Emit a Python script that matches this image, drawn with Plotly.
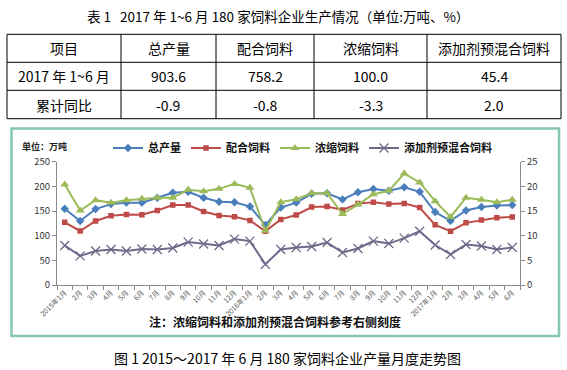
import plotly.graph_objects as go

# ---------------- data ----------------
table_title = "表 1   2017 年 1~6 月 180 家饲料企业生产情况（单位:万吨、%）"
table_header = ["项目", "总产量", "配合饲料", "浓缩饲料", "添加剂预混合饲料"]
table_row_output = ["2017 年 1~6 月", "903.6", "758.2", "100.0", "45.4"]
table_row_yoy = ["累计同比", "-0.9", "-0.8", "-3.3", "2.0"]

months = ["2015年1月", "2月", "3月", "4月", "5月", "6月", "7月", "8月", "9月", "10月", "11月", "12月",
          "2016年1月", "2月", "3月", "4月", "5月", "6月", "7月", "8月", "9月", "10月", "11月", "12月",
          "2017年1月", "2月", "3月", "4月", "5月", "6月"]

total_output = [154.7, 129.7, 154.0, 164.0, 167.0, 167.0, 177.0, 187.0, 189.0, 177.0,
                169.0, 167.6, 159.0, 121.6, 157.0, 167.0, 185.0, 186.0, 173.6, 188.0,
                194.6, 191.0, 198.0, 189.0, 148.0, 130.0, 151.0, 158.0, 161.0, 162.0]
compound_feed = [127.0, 109.5, 129.7, 140.5, 143.0, 142.6, 151.0, 162.0, 162.0, 149.0,
                 141.0, 138.5, 131.0, 109.0, 133.0, 142.0, 158.0, 159.0, 152.0, 165.0,
                 167.6, 164.0, 165.5, 157.0, 122.0, 109.0, 126.0, 132.0, 136.5, 138.0]
concentrate_feed = [20.4, 15.1, 17.2, 16.7, 17.2, 17.5, 17.7, 17.7, 19.3, 19.0,
                    19.5, 20.5, 19.7, 11.0, 16.8, 17.4, 18.6, 18.6, 14.4, 16.3,
                    18.4, 19.1, 22.6, 20.8, 17.0, 13.8, 17.7, 17.3, 16.8, 17.3]
premix_feed = [8.0, 5.9, 6.9, 7.2, 6.9, 7.3, 7.2, 7.5, 8.7, 8.3,
               8.0, 9.3, 8.9, 4.2, 7.2, 7.6, 7.8, 8.6, 6.6, 7.4,
               8.9, 8.4, 9.5, 10.9, 8.1, 6.2, 8.2, 7.9, 7.2, 7.6]

series_names = ["总产量", "配合饲料", "浓缩饲料", "添加剂预混合饲料"]
unit_label = "单位：万吨"
note_text = "注：浓缩饲料和添加剂预混合饲料参考右侧刻度"
caption = "图 1 2015～2017 年 6 月 180 家饲料企业产量月度走势图"

# ---------------- layout helpers ----------------
W, H = 567, 370
FONT = "Noto Sans CJK SC"


def px(x):
    return x / W


def py(y):
    return 1 - y / H


x_idx = list(range(len(months)))

fig = go.Figure()

fig.add_trace(go.Scatter(
    x=x_idx, y=total_output, name=series_names[0], mode="lines+markers",
    line=dict(color="#4a7ebb", width=2),
    marker=dict(symbol="diamond", size=6.5, color="#4a7ebb"),
    yaxis="y"))
fig.add_trace(go.Scatter(
    x=x_idx, y=compound_feed, name=series_names[1], mode="lines+markers",
    line=dict(color="#be4b48", width=2),
    marker=dict(symbol="square", size=5.5, color="#be4b48"),
    yaxis="y"))
fig.add_trace(go.Scatter(
    x=x_idx, y=concentrate_feed, name=series_names[2], mode="lines+markers",
    line=dict(color="#9bbb59", width=2),
    marker=dict(symbol="triangle-up", size=8, color="#9bbb59"),
    yaxis="y2"))
fig.add_trace(go.Scatter(
    x=x_idx, y=premix_feed, name=series_names[3], mode="lines+markers",
    line=dict(color="#6e6a8a", width=2),
    marker=dict(symbol="x-thin", size=9, color="#6e6a8a",
                line=dict(color="#6e6a8a", width=1.3)),
    yaxis="y2"))

ax_color = "#8a8a8a"
tick_font = dict(family=FONT, size=9.5, color="#333333")

fig.update_layout(
    width=W, height=H, autosize=False,
    margin=dict(l=0, r=0, t=0, b=0, autoexpand=False),
    paper_bgcolor="white", plot_bgcolor="white",
    font=dict(family=FONT, color="#000000"),
    xaxis=dict(
        domain=[px(57), px(520)], anchor="y", automargin=False,
        range=[-0.5, len(months) - 0.5],
        tickmode="array", tickvals=x_idx, ticktext=months,
        tickangle=-45, tickfont=dict(family=FONT, size=7, color="#555555"),
        ticks="", showgrid=False, zeroline=False,
        showline=True, linecolor=ax_color, linewidth=1,
        minor=dict(tick0=0.5, dtick=1, ticks="outside", ticklen=4,
                   tickcolor=ax_color, showgrid=False),
    ),
    yaxis=dict(
        domain=[py(285), py(161.7)], anchor="x", automargin=False,
        range=[0, 250], dtick=50, tickfont=tick_font,
        ticks="outside", ticklen=4, tickcolor=ax_color,
        showgrid=False, zeroline=False,
        showline=True, linecolor=ax_color, linewidth=1,
    ),
    yaxis2=dict(
        overlaying="y", side="right", anchor="x", automargin=False,
        range=[0, 25], dtick=5, tickfont=tick_font,
        ticks="outside", ticklen=4, tickcolor=ax_color,
        showgrid=False, zeroline=False,
        showline=True, linecolor=ax_color, linewidth=1,
    ),
    legend=dict(
        orientation="h", x=px(108), xanchor="left", y=py(148), yanchor="middle",
        font=dict(family=FONT, size=11, color="#111111", weight="bold"),
        bgcolor="rgba(0,0,0,0)", itemwidth=30, tracegroupgap=0,
    ),
    showlegend=True,
)

# ---------------- table ----------------
col_edges = [7, 121, 216, 314, 427, 561]
row_edges = [34.3, 62.3, 90.3, 118.7]
shapes = []
for ye in row_edges:
    shapes.append(dict(type="line", xref="paper", yref="paper",
                       x0=px(col_edges[0]), x1=px(col_edges[-1]), y0=py(ye), y1=py(ye),
                       line=dict(color="#000000", width=1)))
for xe in col_edges:
    shapes.append(dict(type="line", xref="paper", yref="paper",
                       x0=px(xe), x1=px(xe), y0=py(row_edges[0]), y1=py(row_edges[-1]),
                       line=dict(color="#000000", width=1)))

# chart frame
shapes.append(dict(type="rect", xref="paper", yref="paper",
                   x0=px(11.5), x1=px(559), y0=py(336), y1=py(128.5),
                   line=dict(color="#86c7ae", width=2.5)))

annotations = []
annotations.append(dict(text=table_title, xref="paper", yref="paper",
                        x=px(277.5), y=py(16), xanchor="center", yanchor="middle",
                        showarrow=False, font=dict(family=FONT, size=13.5, color="#000")))
for r, row in enumerate([table_header, table_row_output, table_row_yoy]):
    yc = (row_edges[r] + row_edges[r + 1]) / 2
    for c, txt in enumerate(row):
        xc = (col_edges[c] + col_edges[c + 1]) / 2
        annotations.append(dict(text=txt, xref="paper", yref="paper",
                                x=px(xc), y=py(yc), xanchor="center", yanchor="middle",
                                showarrow=False, font=dict(family=FONT, size=14, color="#000")))

annotations.append(dict(text=unit_label, xref="paper", yref="paper",
                        x=px(20), y=py(146.5), xanchor="left", yanchor="middle",
                        showarrow=False, font=dict(family=FONT, size=9, color="#222", weight="bold")))
annotations.append(dict(text=note_text, xref="paper", yref="paper",
                        x=px(147), y=py(321), xanchor="left", yanchor="middle",
                        showarrow=False, font=dict(family=FONT, size=12, color="#111", weight="bold")))
annotations.append(dict(text=caption, xref="paper", yref="paper",
                        x=px(287.5), y=py(358), xanchor="center", yanchor="middle",
                        showarrow=False, font=dict(family=FONT, size=14, color="#000")))

fig.update_layout(shapes=shapes, annotations=annotations)

fig.write_html("out.html", post_script="document.body.style.margin='0';",
               config={"displayModeBar": False})
